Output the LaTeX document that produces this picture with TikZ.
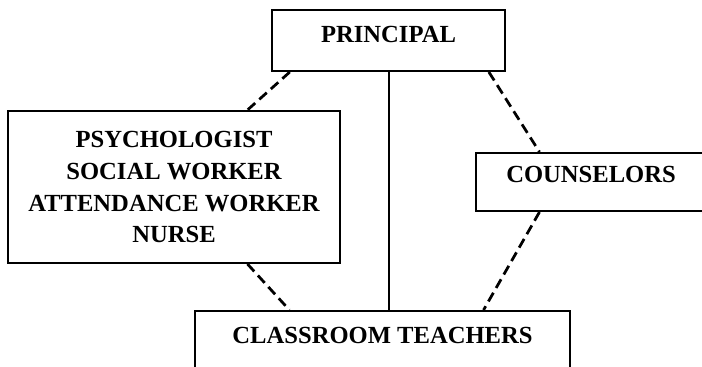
\documentclass[tikz,border=0pt]{standalone}
\usepackage{fontspec}
\setmainfont{Liberation Serif}
\usetikzlibrary{calc}

\begin{document}
\begin{tikzpicture}[
  box/.style={draw=black,line width=0.4mm,inner sep=0pt,align=center,
    font=\bfseries\fontsize{14}{18.2}\selectfont},
  link/.style={line width=0.55mm,dash pattern=on 0.2cm off 0.11cm}]
  \useasboundingbox (0,0) rectangle (14.04,-7.34);
  \node[box,minimum width=4.66cm,text height=0.66cm,text depth=0.56cm] (principal) at (7.77,-0.81) {PRINCIPAL};
  \node[box,minimum width=6.64cm,minimum height=3.04cm] (support) at (3.48,-3.74)
    {PSYCHOLOGIST\\SOCIAL WORKER\\ATTENDANCE WORKER\\NURSE};
  \node[box,minimum width=4.6cm,text height=0.6cm,text depth=0.56cm] (counselors) at (11.82,-3.64) {COUNSELORS};
  \node[box,anchor=north,minimum width=7.5cm,text height=0.64cm,text depth=1cm] (teachers) at (7.65,-6.2) {CLASSROOM TEACHERS};
  \draw[line width=0.4mm] (principal.south) -- (principal.south |- teachers.north);
  \draw[link] ($(principal.south west)!0.08!(principal.south east)$) -- ($(support.north west)!0.72!(support.north east)$);
  \draw[link] ($(support.south west)!0.72!(support.south east)$) -- ($(teachers.north west)!0.253!(teachers.north east)$);
  \draw[link] ($(principal.south west)!0.927!(principal.south east)$) -- ($(counselors.north west)!0.278!(counselors.north east)$);
  \draw[link] ($(counselors.south west)!0.278!(counselors.south east)$) -- ($(teachers.north west)!0.768!(teachers.north east)$);
\end{tikzpicture}
\end{document}
